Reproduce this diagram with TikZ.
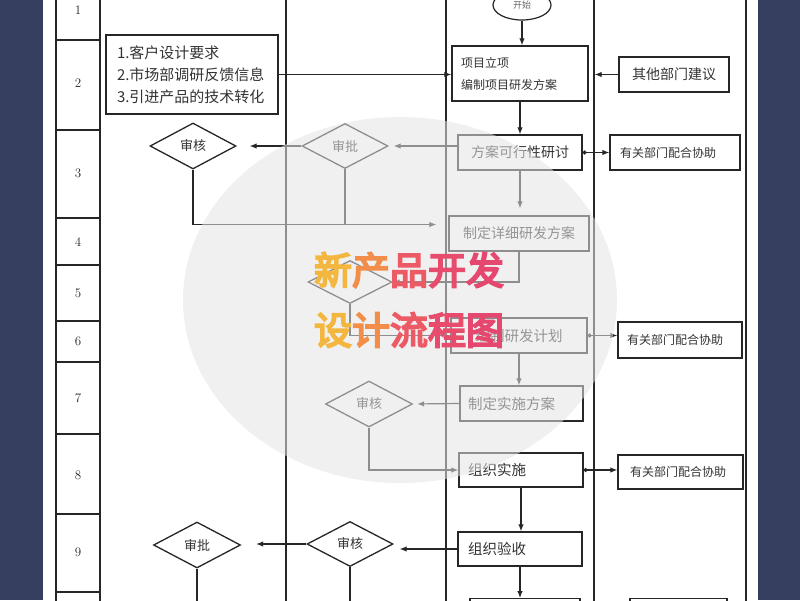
\documentclass[tikz,border=0pt]{standalone}
\usepackage{fontspec}
\newfontfamily\cjk{Noto Sans CJK SC}
\newfontfamily\cjkb[FakeBold=5]{Noto Sans CJK SC}
\usetikzlibrary{arrows.meta,shapes.geometric,calc}
\definecolor{navy}{RGB}{54,63,96}
\definecolor{wmA}{HTML}{F3B63F}
\definecolor{wmB}{HTML}{F28E4A}
\definecolor{wmC}{HTML}{EC5A66}
\definecolor{wmD}{HTML}{E84C6C}
\definecolor{wmE}{HTML}{E6476E}
\begin{document}
\begin{tikzpicture}[x=1pt,y=-1pt,
  ln/.style={draw=black!85, line width=1.2pt},
  lane/.style={draw=black!85, line width=1.4pt},
  box/.style={draw=black!85, line width=1.3pt, fill=white, text=black!80, inner xsep=9pt, inner ysep=0pt, align=left, font=\cjk\fontsize{14}{17}\selectfont},
  dia/.style={diamond, draw=black!85, line width=1.3pt, fill=white, inner sep=0pt, text=black!80, font=\cjk\fontsize{13}{15}\selectfont},
  arr/.style={ln, -{Latex[length=7pt,width=5.5pt]}},
  darr/.style={ln, {Circle[length=4pt]}-{Latex[length=7pt,width=5.5pt]}},
  num/.style={font=\fontsize{13}{15}\selectfont, text=black!85},
  wm/.style={font=\cjkb\fontsize{38}{40}\selectfont, inner sep=0pt}
]
\useasboundingbox (0,0) rectangle (800,600);
\clip (0,0) rectangle (800,600);
\fill[white] (0,0) rectangle (800,600);
\fill[navy] (0,0) rectangle (43,600);
\fill[navy] (758,0) rectangle (800,600);

% lanes
\foreach \x in {56,100,286,446,594,746} \draw[lane] (\x,-5) -- (\x,605);
\foreach \y in {40,130,218,265,321,362,434,514,592} \draw[lane] (56,\y) -- (100,\y);

% row numbers
\node[num] (n1) at (78,10) {1};
\node[num] (n2) at (78,83) {2};
\node[num] (n3) at (78,173) {3};
\node[num] (n4) at (78,242) {4};
\node[num] (n5) at (78,293) {5};
\node[num] (n6) at (78,341) {6};
\node[num] (n7) at (78,398) {7};
\node[num] (n8) at (78,475) {8};
\node[num] (n9) at (78,552) {9};

% nodes
\node[ellipse, draw=black!85, line width=1.2pt, fill=white, minimum width=58pt, minimum height=30pt, text=black!60, font=\cjk\fontsize{9}{10}\selectfont] (start) at (522,5) {开始};
\node[box, text width=118pt, minimum height=55pt, font=\cjk\fontsize{12}{22}\selectfont] (proj) at (520,73.5) {项目立项\\编制项目研发方案};
\node[box, inner xsep=11pt, text width=150pt, minimum height=79pt, font=\cjk\fontsize{15}{22}\selectfont] (req) at (192,74.5) {1.客户设计要求\\2.市场部调研反馈信息\\3.引进产品的技术转化};
\node[box, text width=92pt, minimum height=35pt, align=center] (other) at (674,74.5) {其他部门建议};
\node[box, text width=106pt, minimum height=35pt, align=center] (feas) at (520,152.5) {方案可行性研讨};
\node[box, inner xsep=10pt, text width=110pt, minimum height=35pt, font=\cjk\fontsize{12}{14}\selectfont] (help1) at (675,152.5) {有关部门配合协助};
\node[dia, minimum width=86pt, minimum height=45pt] (sp3) at (345,146) {审批};
\node[dia, minimum width=86pt, minimum height=46pt] (sh3) at (193,146) {审核};
\node[box, text width=122pt, minimum height=35pt, align=center] (det) at (519,233.5) {制定详细研发方案};
\node[dia, minimum width=84pt, minimum height=43pt] (d5) at (350,282) {};
\node[box, text width=118pt, minimum height=35pt, align=center, font=\cjk\fontsize{14.5}{17}\selectfont] (plan) at (519,335.5) {编制研发计划};
\node[box, text width=106pt, minimum height=36pt, font=\cjk\fontsize{12}{14}\selectfont] (help2) at (680,340) {有关部门配合协助};
\node[box, inner xsep=8pt, text width=107pt, minimum height=35pt, font=\cjk\fontsize{14.5}{17}\selectfont] (scheme) at (521.5,403.5) {制定实施方案};
\node[dia, minimum width=87pt, minimum height=46pt] (d7) at (369,404) {审核};
\node[box, text width=106pt, minimum height=34pt, font=\cjk\fontsize{14.5}{17}\selectfont] (impl) at (521,470) {组织实施};
\node[box, inner xsep=12pt, text width=101pt, minimum height=34pt, font=\cjk\fontsize{12}{14}\selectfont] (help3) at (680.5,472) {有关部门配合协助};
\node[box, inner xsep=10pt, text width=104pt, minimum height=34pt, font=\cjk\fontsize{14.5}{17}\selectfont] (acc) at (520,549) {组织验收};
\node[dia, minimum width=86pt, minimum height=45pt] (d9b) at (350,544) {审核};
\node[dia, minimum width=87pt, minimum height=46pt] (d9a) at (197,545) {审批};
\node[box, minimum width=110pt, minimum height=40pt, anchor=north] (bot1) at (525,598) {};
\node[box, minimum width=97pt, minimum height=40pt, anchor=north] (bot2) at (678.5,598) {};

% connectors
\coordinate (m3) at ([yshift=9pt]det.west);
\coordinate (e1) at (0,615);
\draw[arr] (start.south) -- (start.south |- proj.north);
\draw[arr] (req.east) -- (req.east -| proj.west);
\draw[arr, shorten >=6pt] (other.west) -- (other.west -| proj.east);
\draw[arr] (proj.south) -- (feas.north);
\draw[darr] (feas.east) -- (feas.east -| help1.west);
\draw[arr, shorten >=5pt] (feas.west |- sp3.east) -- (sp3.east);
\draw[arr, shorten >=13pt] (sp3.west) -- (sh3.east);
\draw[arr, shorten >=12pt] (sh3.south) |- (m3);
\draw[ln] (sp3.south) -- (sp3.south |- m3);
\draw[arr, shorten >=7pt] (feas.south) -- (feas.south |- det.north);
\draw[arr] (det.south) |- (d5.east);
\draw[arr] (d5.south) |- (plan.west);
\draw[darr] (plan.east) -- (plan.east -| help2.west);
\draw[arr] (plan.south) -- (plan.south |- scheme.north);
\draw[arr, shorten >=4pt] (scheme.west) -- (d7.east);
\draw[arr] (d7.south) |- (impl.west);
\draw[darr] (impl.east) -- (impl.east -| help3.west);
\draw[arr] (impl.south) -- (impl.south |- acc.north);
\draw[arr, shorten >=6pt] (acc.west) -- (acc.west -| d9b.east);
\draw[arr, shorten >=15pt] (d9b.west) -- (d9b.west -| d9a.east);
\draw[ln] (d9a.south) -- (d9a.south |- e1);
\draw[ln] (d9b.south) -- (d9b.south |- e1);
\draw[arr] (acc.south) -- (acc.south |- bot1.north);

% watermark
\fill[black!10, opacity=0.55] (400,300) ellipse (217pt and 183pt);
\node[wm] (wm1) at (409,270) {\textcolor{wmA}{新}\textcolor{wmB}{产}\textcolor{wmC}{品}\textcolor{wmD}{开}\textcolor{wmE}{发}};
\node[wm] (wm2) at (409,330) {\textcolor{wmA}{设}\textcolor{wmB}{计}\textcolor{wmC}{流}\textcolor{wmD}{程}\textcolor{wmE}{图}};
\end{tikzpicture}
\end{document}
